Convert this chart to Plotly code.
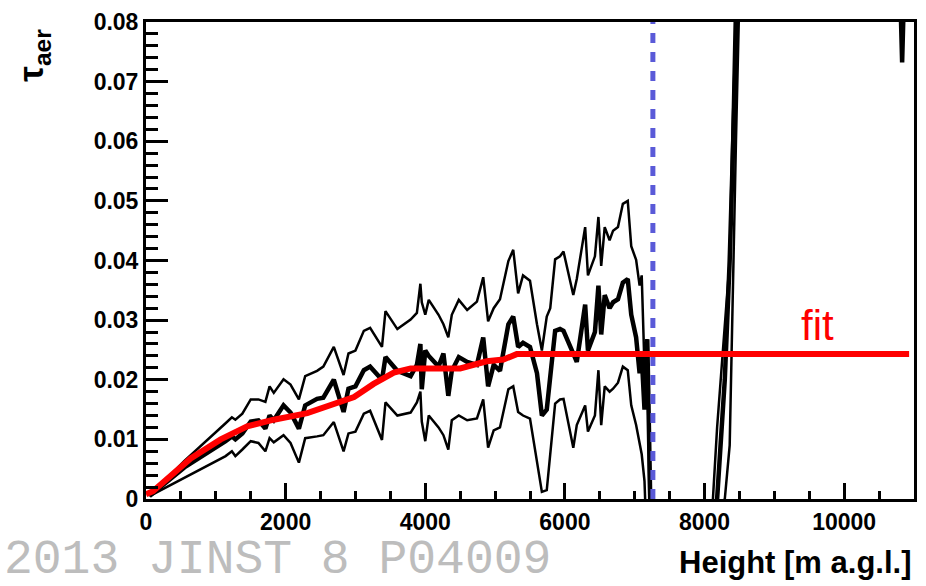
import plotly.graph_objects as go

# ---- data ----
height = [50, 550, 1140, 1230, 1280, 1380, 1500, 1610, 1710, 1770, 1830, 1970, 2070, 2190, 2280,
          2450, 2540, 2690, 2830, 2900, 3000, 3120, 3210, 3380, 3430, 3600, 3790, 3880, 3930, 3950,
          4000, 4050, 4190, 4260, 4330, 4380, 4480, 4600, 4740, 4830, 4900, 4980, 5070, 5190, 5260,
          5330, 5400, 5500, 5600, 5670, 5740, 5790, 5860, 5930, 5980, 6120, 6170, 6290, 6330, 6430,
          6480, 6520, 6570, 6640, 6690, 6760, 6830, 6900, 6950, 7020, 7070, 7100, 7140, 7180, 7230,
          7300, 8000, 8120, 8180, 8290, 8360, 8450, 8500, 10780, 10830, 10880, 11000]

tau_upper = [0.0005, 0.0064, 0.0127, 0.0137, 0.0133, 0.0143, 0.0167, 0.0167, 0.0163, 0.0189, 0.0178,
             0.0201, 0.0192, 0.0167, 0.0206, 0.0215, 0.0222, 0.0255, 0.0208, 0.0244, 0.0249, 0.0282,
             0.0287, 0.0255, 0.0315, 0.0285, 0.0301, 0.0312, 0.0361, 0.0330, 0.0309, 0.0334, 0.0309,
             0.0293, 0.0271, 0.0309, 0.0334, 0.0317, 0.0331, 0.0372, 0.0298, 0.0320, 0.0335, 0.0399,
             0.0418, 0.0345, 0.0375, 0.0366, 0.0293, 0.0249, 0.0306, 0.0320, 0.0402, 0.0407, 0.0415,
             0.0342, 0.0369, 0.0456, 0.0375, 0.0407, 0.0473, 0.0391, 0.0456, 0.0434, 0.0450, 0.0456,
             0.0495, 0.0500, 0.0424, 0.0401, 0.0358, 0.0375, 0.0220, 0.0268, -0.0200,
             -0.05, -0.05, -0.02, -0.01, 0.0, 0.009, 0.060, 0.085, 0.10, 0.10, 0.10, 0.10]

tau_mean = [0.0005, 0.0053, 0.0097, 0.0105, 0.0100, 0.0110, 0.0130, 0.0132, 0.0118, 0.0140, 0.0132,
            0.0157, 0.0145, 0.0118, 0.0157, 0.0168, 0.0170, 0.0200, 0.0146, 0.0185, 0.0189, 0.0216,
            0.0222, 0.0200, 0.0238, 0.0215, 0.0206, 0.0225, 0.0260, 0.0184, 0.0249, 0.0240, 0.0222,
            0.0244, 0.0173, 0.0215, 0.0238, 0.0230, 0.0225, 0.0271, 0.0189, 0.0225, 0.0215, 0.0293,
            0.0306, 0.0255, 0.0262, 0.0255, 0.0211, 0.0140, 0.0150, 0.0211, 0.0282, 0.0285, 0.0282,
            0.0244, 0.0230, 0.0326, 0.0249, 0.0280, 0.0358, 0.0276, 0.0342, 0.0320, 0.0330, 0.0335,
            0.0363, 0.0369, 0.0309, 0.0271, 0.0211, 0.0240, 0.0150, 0.0268, -0.0200,
            -0.05, -0.05, -0.01, 0.0, 0.020, 0.040, 0.080, 0.095, 0.095, 0.0732, 0.095, 0.095]

tau_lower = [0.0005, 0.0036, 0.0072, 0.0080, 0.0072, 0.0083, 0.0097, 0.0094, 0.0080, 0.0102, 0.0095,
             0.0107, 0.0094, 0.0061, 0.0102, 0.0105, 0.0107, 0.0129, 0.0080, 0.0110, 0.0113, 0.0143,
             0.0148, 0.0099, 0.0162, 0.0140, 0.0145, 0.0162, 0.0180, 0.0130, 0.0097, 0.0140, 0.0120,
             0.0107, 0.0083, 0.0132, 0.0140, 0.0132, 0.0135, 0.0167, 0.0086, 0.0115, 0.0120, 0.0184,
             0.0189, 0.0146, 0.0140, 0.0135, 0.0064, 0.0012, 0.0015, 0.0080, 0.0160, 0.0167, 0.0168,
             0.0086, 0.0124, 0.0157, 0.0113, 0.0140, 0.0216, 0.0124, 0.0189, 0.0180, 0.0185, 0.0195,
             0.0222, 0.0216, 0.0157, 0.0124, 0.0090, 0.0075, 0.0030, -0.0100, -0.0300,
             -0.05, -0.05, 0.0, 0.012, 0.030, 0.040, 0.090, 0.10, 0.10, 0.10, 0.10, 0.10]

fit_height = [0, 100, 640, 1070, 1450, 1830, 2310, 2600, 2980, 3260, 3550, 3790, 4200, 4500, 4880,
              5120, 5310, 10930]
fit_tau = [0.0008, 0.0013, 0.0068, 0.0100, 0.0122, 0.0133, 0.0144, 0.0155, 0.0171, 0.0193, 0.0212,
           0.0219, 0.0219, 0.0219, 0.0231, 0.0234, 0.0243, 0.0243]

cut_height = 7260
x_ticks = [0, 2000, 4000, 6000, 8000, 10000]
y_ticks = [0, 0.01, 0.02, 0.03, 0.04, 0.05, 0.06, 0.07, 0.08]
y_labels = ["0", "0.01", "0.02", "0.03", "0.04", "0.05", "0.06", "0.07", "0.08"]

# ---- figure ----
W, H = 926, 586
L, R, T, B = 146, 9, 11, 87
PW, PH = W - L - R, H - T - B

def px(xp):
    return (xp - L) / PW

def py(yp):
    return (H - B - yp) / PH

fig = go.Figure()
fig.add_trace(go.Scatter(x=height, y=tau_upper, mode="lines",
                         line=dict(color="black", width=2.5), showlegend=False))
fig.add_trace(go.Scatter(x=height, y=tau_lower, mode="lines",
                         line=dict(color="black", width=2.5), showlegend=False))
fig.add_trace(go.Scatter(x=height, y=tau_mean, mode="lines",
                         line=dict(color="black", width=4.5), showlegend=False))
fig.add_trace(go.Scatter(x=[cut_height, cut_height], y=[0, 0.08], mode="lines",
                         line=dict(color="#5a5ad8", width=5, dash="10px,9px"), showlegend=False))
fig.add_trace(go.Scatter(x=fit_height, y=fit_tau, mode="lines",
                         line=dict(color="#ff0000", width=6), showlegend=False))

tickfont = dict(family="Liberation Sans, Arial", size=23, color="black", weight="bold")

fig.update_xaxes(range=[0, 11000], tickvals=x_ticks, ticktext=[str(v) for v in x_ticks],
                 ticks="inside", ticklen=16, tickwidth=3, tickcolor="black",
                 minor=dict(dtick=500, tick0=0, ticks="inside", ticklen=8, tickwidth=3, tickcolor="black"),
                 showline=True, linecolor="black", linewidth=3, mirror=True,
                 showgrid=False, zeroline=False, tickfont=tickfont)
fig.update_yaxes(range=[0, 0.080001], tickvals=y_ticks, ticktext=y_labels,
                 ticks="inside", ticklen=22, tickwidth=3, tickcolor="black",
                 minor=dict(dtick=0.002, tick0=0, ticks="inside", ticklen=12, tickwidth=3, tickcolor="black"),
                 showline=True, linecolor="black", linewidth=3, mirror=True,
                 ticklabeloverflow="allow",
                 showgrid=False, zeroline=False, tickfont=tickfont)

annotations = [
    dict(text="Height [m a.g.l.]", x=px(917), y=py(564), xref="paper", yref="paper",
         xanchor="right", yanchor="middle", showarrow=False,
         font=dict(family="Liberation Sans, Arial", size=31, color="black", weight="bold")),
    dict(text="τ<sub>aer</sub>", x=px(33), y=py(45), xref="paper", yref="paper",
         xanchor="center", yanchor="middle", showarrow=False, textangle=-90,
         font=dict(family="Liberation Sans, Arial", size=35, color="black", weight="bold")),
    dict(text="fit", x=px(820), y=py(321), xref="paper", yref="paper",
         xanchor="center", yanchor="middle", showarrow=False,
         font=dict(family="Liberation Sans, Arial", size=42, color="#ff0000")),
    dict(text="2013 JINST 8 P04009", x=px(1), y=py(561), xref="paper", yref="paper",
         xanchor="left", yanchor="middle", showarrow=False,
         font=dict(family="Liberation Mono, Courier New, monospace", size=48, color="#bdbdbd")),
]

fig.update_layout(width=W, height=H, margin=dict(l=L, r=R, t=T, b=B, pad=0),
                  plot_bgcolor="white", paper_bgcolor="white", annotations=annotations)

fig.write_html("out.html")
